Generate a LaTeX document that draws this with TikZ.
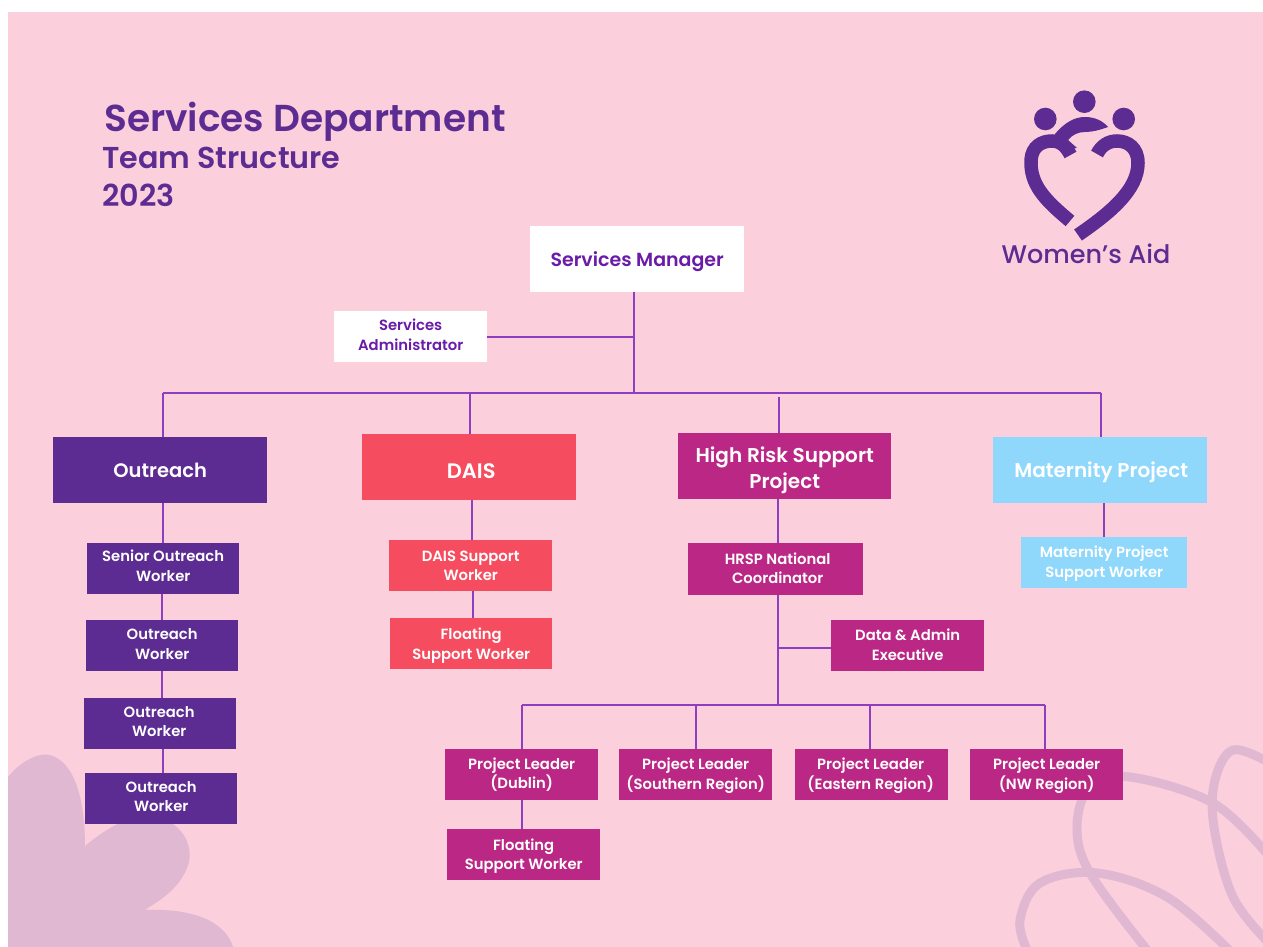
\documentclass[tikz,border=0pt]{standalone}
\usepackage{fontspec}
\setmainfont{Poppins}[BoldFont={Poppins SemiBold}]
\newfontfamily\medfont{Poppins Medium}
\usetikzlibrary{calc}
\definecolor{bgpink}{HTML}{FBD0DC}
\definecolor{deco}{HTML}{E1B8D2}
\definecolor{deep}{HTML}{5C2C92}
\definecolor{coral}{HTML}{F64C5F}
\definecolor{mag}{HTML}{BB2785}
\definecolor{sky}{HTML}{8FD8FC}
\definecolor{wire}{HTML}{8E3FC0}
\definecolor{vio}{HTML}{6A1BA8}
\tikzset{
  x=1pt,y=-1pt,
  box/.style={inner sep=0pt,anchor=north west},
  wirel/.style={wire,line width=1.5pt},
  heading/.style={inner sep=0pt,anchor=west,text=deep},
  logo/.style={deep,line width=13.5pt,line cap=butt},
  decoline/.style={deco,line width=9pt},
  bl/.style={inner sep=0pt,align=center,text=white,font=\fontsize{20}{26}\selectfont\bfseries},
  sl/.style={inner sep=0pt,align=center,text=white,font=\fontsize{14.8}{19.5}\selectfont\bfseries},
}
\newcommand{\bx}[7]{\node[box,fill=#1,minimum width=#4-#2,minimum height=#5-#3] (#6) at (#2,#3) {};}
\begin{document}
\begin{tikzpicture}
\useasboundingbox (0,0) rectangle (1263,947);
\fill[white] (0,0) rectangle (1263,947);
\fill[bgpink] (8,12) rectangle (1263,947);
\begin{scope}
\clip (8,12) rectangle (1263,947);
\fill[deco] (8,777) .. controls (20,762) and (38,752) .. (50,755) .. controls (75,762) and (85,800) .. (85,846)
  .. controls (110,825) and (135,812) .. (160,818) .. controls (185,825) and (195,850) .. (187,868)
  .. controls (178,890) and (160,900) .. (145,910) .. controls (190,908) and (225,920) .. (233,947) -- (8,947) -- cycle;
\draw[decoline] plot[smooth,tension=0.6] coordinates {(1147,950) (1090,873) (1077,827) (1090,787) (1130,777) (1213,803) (1268,855)};
\draw[decoline] plot[smooth,tension=0.6] coordinates {(1027,950) (1020,920) (1040,883) (1097,873) (1167,897) (1229,950)};
\draw[decoline] plot[smooth,tension=0.6] coordinates {(1268,942) (1233,897) (1214,827) (1215,780) (1233,750) (1268,762)};
\end{scope}

% heading
\node[heading,font=\fontsize{37.5}{40}\selectfont\bfseries] (t1) at (104,122) {Services Department};
\node[heading,font=\fontsize{30.2}{34}\selectfont\bfseries] (t2) at (102,158) {Team Structure};
\node[heading,font=\fontsize{30.2}{34}\selectfont\bfseries] (t3) at (102,195) {2023};

% logo
\fill[deep] (1084.3,101.7) circle (11.3);
\fill[deep] (1045.3,119) circle (11.3);
\fill[deep] (1123.7,119) circle (11.3);
\draw[logo] (1070,221) .. controls (1045,200) and (1030,185) .. (1031,160) .. controls (1032,146) and (1042,141) .. (1052,141) .. controls (1060,141) and (1066,146) .. (1070.5,155);
\draw[logo] (1097,154) .. controls (1101,146) and (1108,141) .. (1117,141) .. controls (1128,141) and (1138,148) .. (1138,163) .. controls (1138,190) and (1110,213) .. (1078,235);
\fill[deep] (1055,134) .. controls (1065,122) and (1075,117) .. (1085,117) .. controls (1095,117) and (1103,121) .. (1108,127) .. controls (1100,130) and (1092,132) .. (1085,132) .. controls (1078,132) and (1072,135) .. (1068,140) -- (1077,148) -- (1062,150) -- cycle;
\node[inner sep=0pt,text=deep,font=\fontsize{25.5}{30}\selectfont\medfont] (brand) at (1086,254) {Women’s Aid};

% nodes
\bx{white}{530}{226}{744}{292}{mgr}{}
\bx{white}{334}{311}{487}{362}{adm}{}
\bx{deep}{53}{437}{267}{503}{out}{}
\bx{coral}{362}{434}{576}{500}{dais}{}
\bx{mag}{678}{433}{891}{499}{hr}{}
\bx{sky}{993}{437}{1207}{503}{mat}{}
\bx{deep}{87}{543}{239}{594}{sow}{}
\bx{deep}{86}{620}{238}{671}{ow1}{}
\bx{deep}{84}{698}{236}{749}{ow2}{}
\bx{deep}{85}{773}{237}{824}{ow3}{}
\bx{coral}{389}{540}{552}{591}{dsw}{}
\bx{coral}{390}{618}{552}{669}{fsw}{}
\bx{mag}{688}{543}{863}{595}{nc}{}
\bx{mag}{831}{620}{984}{671}{dae}{}
\bx{mag}{445}{749}{598}{800}{pl1}{}
\bx{mag}{619}{749}{772}{800}{pl2}{}
\bx{mag}{795}{749}{948}{800}{pl3}{}
\bx{mag}{970}{749}{1123}{800}{pl4}{}
\bx{mag}{447}{829}{600}{880}{fl2}{}
\bx{sky}{1021}{537}{1187}{588}{msw}{}

% labels
\node[bl,text=vio,font=\fontsize{19}{26}\selectfont\bfseries] at ([yshift=-2]mgr.center) {Services Manager};
\node[sl,text=vio] at ([yshift=2]adm.center) {Services\\Administrator};
\node[bl,font=\fontsize{19.5}{26}\selectfont\bfseries] at (out) {Outreach};
\node[bl,font=\fontsize{21}{26}\selectfont\bfseries] at ([xshift=2,yshift=-4]dais.center) {DAIS};
\node[bl] at ([yshift=-4]hr.center) {High Risk Support\\Project};
\node[bl] at ([xshift=1,yshift=-2]mat.center) {Maternity Project};
\node[sl] at ([yshift=3]sow.center) {Senior Outreach\\Worker};
\node[sl] at ([yshift=1.5]ow1.center) {Outreach\\Worker};
\node[sl] at ([xshift=-1,yshift=2]ow2.center) {Outreach\\Worker};
\node[sl] at ([yshift=2]ow3.center) {Outreach\\Worker};
\node[sl] at (dsw) {DAIS Support\\Worker};
\node[sl] at ([yshift=-2]fsw.center) {Floating\\Support Worker};
\node[sl] at ([xshift=2,yshift=1]nc.center) {HRSP National\\Coordinator};
\node[sl] at ([yshift=1]dae.center) {Data \& Admin\\Executive};
\node[sl] at (pl1) {Project Leader\\(Dublin)};
\node[sl] at ([yshift=-1]pl2.center) {Project Leader\\(Southern Region)};
\node[sl] at ([xshift=-1,yshift=-1]pl3.center) {Project Leader\\(Eastern Region)};
\node[sl] at ([yshift=-1]pl4.center) {Project Leader\\(NW Region)};
\node[sl] at ([yshift=-1.5]fl2.center) {Floating\\Support Worker};
\node[sl] at ([yshift=-1]msw.center) {Maternity Project\\Support Worker};

% connector guides
\coordinate (xm) at (634,0);
\coordinate (ya) at (0,337);
\coordinate (bl) at (163,393);
\coordinate (br) at (1101,393);
\coordinate (bm) at (634,393);
\coordinate (xd) at (470,0);
\coordinate (xh) at (779,397);
\coordinate (xo) at (163,0);
\coordinate (xo2) at (162,0);
\coordinate (xdd) at (472,0);
\coordinate (xf) at (473,0);
\coordinate (xn) at (778,0);
\coordinate (yd) at (0,648);
\coordinate (xmat) at (1104,0);
\coordinate (l1) at (522,705);
\coordinate (l4) at (1045,705);
\coordinate (n2) at (696,705);
\coordinate (n3) at (870,705);
\coordinate (nj) at (778,705);

\draw[wirel] (mgr.south -| xm) -- (bm);
\draw[wirel] (adm.east |- ya) -- (xm |- ya);
\draw[wirel] (bl) -- (br);
\draw[wirel] (bl) -- (bl |- out.north);
\draw[wirel] (br) -- (br |- mat.north);
\draw[wirel] (xd |- bl) -- (xd |- dais.north);
\draw[wirel] (xh) -- (xh |- hr.north);
\draw[wirel] (out.south -| xo) -- (sow.north -| xo);
\draw[wirel] (sow.south -| xo2) -- (ow1.north -| xo2);
\draw[wirel] (ow1.south -| xo2) -- (ow2.north -| xo2);
\draw[wirel] (ow2.south -| xo) -- (ow3.north -| xo);
\draw[wirel] (dais.south -| xdd) -- (dsw.north -| xdd);
\draw[wirel] (dsw.south -| xf) -- (fsw.north -| xf);
\draw[wirel] (hr.south -| xn) -- (nc.north -| xn);
\draw[wirel] (nc.south -| xn) -- (nj);
\draw[wirel] (dae.west |- yd) -- (xn |- yd);
\draw[wirel] (l1) -- (l4);
\draw[wirel] (l1) -- (l1 |- pl1.north);
\draw[wirel] (n2) -- (n2 |- pl2.north);
\draw[wirel] (n3) -- (n3 |- pl3.north);
\draw[wirel] (l4) -- (l4 |- pl4.north);
\draw[wirel] (pl1.south -| l1) -- (fl2.north -| l1);
\draw[wirel] (mat.south -| xmat) -- (msw.north -| xmat);
\end{tikzpicture}
\end{document}
